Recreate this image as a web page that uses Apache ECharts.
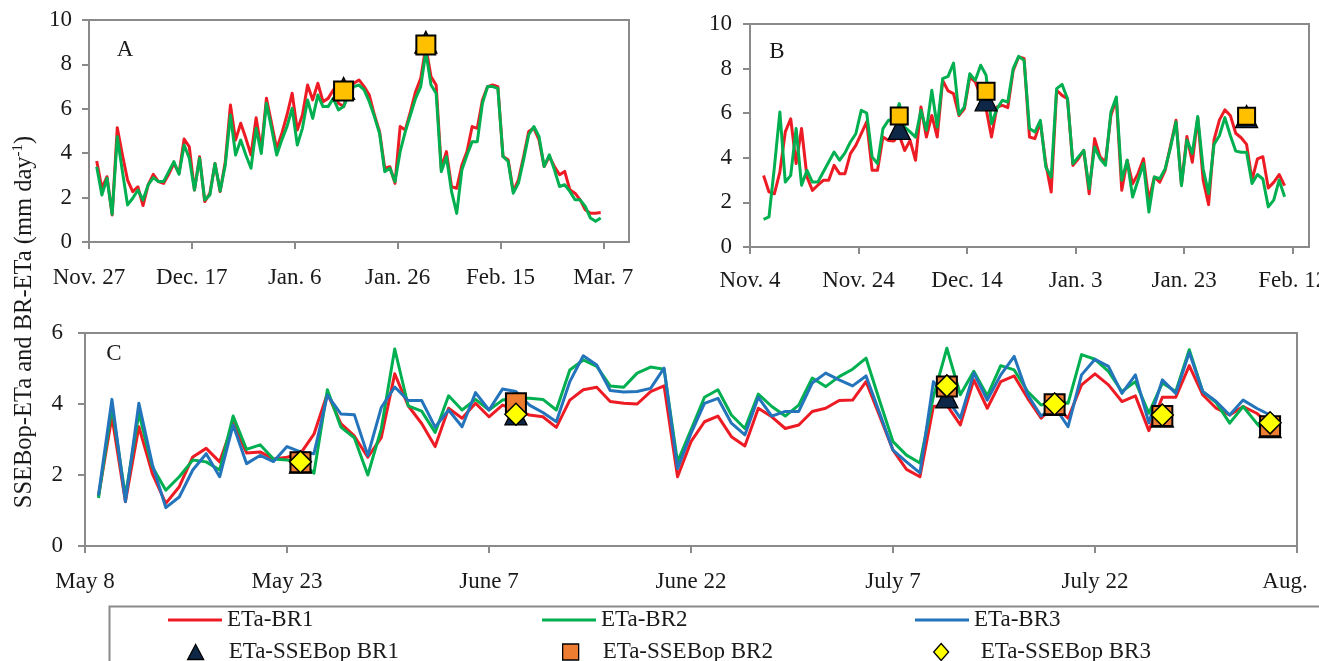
<!DOCTYPE html>
<html><head><meta charset="utf-8">
<script src="https://cdn.jsdelivr.net/npm/echarts@6.0.0/dist/echarts.min.js"></script>
<style>html,body{margin:0;padding:0;background:#fff}#c{width:1319px;height:661px}</style>
</head><body><div id="c"></div>
<script>
// ---------- DATA ----------
// Panel A (day offset from Nov. 27)
const A_start = 1.5;
const A_BR1 = [3.65,2.42,2.94,1.22,5.15,3.92,2.79,2.27,2.49,1.64,
2.57,3.05,2.72,2.64,3.05,3.54,3.09,4.64,4.29,2.34,
3.84,1.82,2.19,3.54,2.27,3.62,6.17,4.59,5.35,4.67,
3.92,5.6,4.14,6.47,5.35,4.2,4.9,5.72,6.7,5.05,
5.72,7.07,6.4,7.15,6.32,6.47,6.85,6.25,6.1,6.92,
7.15,7.3,7.0,6.62,5.72,4.97,3.32,3.39,2.64,5.2,
5.05,5.87,6.77,7.37,8.8,7.45,7.07,3.32,4.07,2.49,
2.42,3.47,4.07,5.2,5.12,6.4,7.0,7.07,7.0,3.85,
3.7,2.28,2.8,3.85,4.98,5.13,4.6,3.4,3.85,3.4,
3.03,3.18,2.35,2.2,1.9,1.45,1.3,1.3,1.33];
const A_BR2 = [3.39,2.12,2.87,1.25,4.74,3.17,1.67,1.97,2.34,1.89,
2.57,2.9,2.72,2.72,3.17,3.62,3.05,4.37,3.77,2.34,
3.77,1.89,2.12,3.54,2.3,3.47,5.72,3.92,4.59,3.92,
3.32,5.12,3.99,6.25,5.12,3.92,4.6,5.2,6.02,4.37,
5.12,6.4,5.57,6.62,6.1,6.1,6.47,5.95,6.1,6.62,
7.0,7.07,6.85,6.32,5.65,4.89,3.17,3.32,2.72,4.07,
4.97,5.72,6.47,7.0,8.57,7.07,6.7,3.17,3.84,2.27,
1.29,3.24,3.92,4.52,4.52,6.25,7.0,7.0,6.92,3.85,
3.63,2.2,2.65,3.7,4.83,5.2,4.75,3.4,3.93,3.25,
2.5,2.58,2.28,1.9,1.9,1.6,1.08,0.93,1.08];
const A_sseDays = [49.5, 65.5];
const A_sseBR1 = [6.92, 9.0];
const A_sseBR2 = [6.8, 8.87];
const A_ticks = ['Nov. 27','Dec. 17','Jan. 6','Jan. 26','Feb. 15','Mar. 7'];

// Panel B (day offset from Nov. 4)
const B_start = 2.5;
const B_BR1 = [3.21,2.47,2.39,3.36,5.16,5.75,3.74,5.31,3.14,2.54,
2.77,2.99,2.99,3.66,3.29,3.29,4.19,4.56,5.08,5.61,
3.44,3.44,4.93,4.78,4.75,5.01,4.33,4.78,3.89,6.28,
4.93,5.9,4.93,7.47,7.0,6.88,5.9,6.2,7.62,7.4,
6.8,6.2,4.93,6.28,6.35,6.25,7.92,8.52,8.45,4.93,
4.86,5.6,3.74,2.47,7.03,6.8,6.65,3.66,3.96,4.33,
2.39,4.86,4.04,3.81,5.9,6.65,2.54,3.89,2.84,3.29,
3.96,2.09,3.14,2.91,3.44,4.56,5.68,2.8,4.95,3.8,
5.8,3.0,1.9,4.8,5.7,6.15,5.9,5.1,4.9,4.6,
3.0,3.95,4.05,2.65,2.9,3.25,2.75];
const B_BR2 = [1.24,1.35,3.59,6.05,2.91,3.21,5.31,2.77,3.44,2.91,
2.91,3.36,3.81,4.26,3.89,4.22,4.71,5.08,6.13,6.01,
4.04,3.74,5.31,5.68,5.68,6.43,5.38,5.16,4.93,6.13,
5.23,7.03,5.38,7.55,7.65,8.25,5.95,6.28,7.77,7.47,
8.15,7.7,5.53,6.2,6.58,6.5,8.0,8.55,8.37,5.31,
5.16,5.68,3.59,3.14,7.1,7.29,6.65,3.74,4.04,4.33,
2.62,4.48,3.96,3.66,6.05,6.73,2.99,3.89,2.24,2.99,
3.74,1.57,3.14,3.06,3.51,4.48,5.61,2.75,4.8,4.2,
5.85,3.5,2.4,4.6,5.0,5.8,5.0,4.3,4.25,4.25,
2.85,3.25,3.05,1.8,2.1,3.0,2.25];
const B_sseDays = [27.5, 43.5, 91.5];
const B_sseBR1 = [5.32, 6.6, 5.85];
const B_sseBR2 = [5.87, 6.98, 5.86];
const B_ticks = ['Nov. 4','Nov. 24','Dec. 14','Jan. 3','Jan. 23','Feb. 12'];

// Panel C (day offset from May 8)
const C_start = 1;
const C_BR1 = [1.4,3.64,1.25,3.36,2.04,1.2,1.67,2.51,2.75,2.37,
3.46,2.62,2.65,2.45,2.5,2.6,3.15,4.3,3.45,3.1,
2.5,3.05,4.85,3.95,3.45,2.8,3.88,3.6,4.02,3.64,
3.97,3.83,3.69,3.64,3.34,4.11,4.4,4.47,4.07,4.02,
4.0,4.35,4.51,1.95,2.94,3.5,3.66,3.08,2.82,3.88,
3.64,3.31,3.41,3.79,3.88,4.1,4.11,4.63,3.67,2.7,
2.16,1.95,3.93,3.97,3.41,4.68,3.88,4.63,4.79,4.16,
3.6,3.97,3.6,4.54,4.85,4.54,4.07,4.23,3.25,4.19,
4.19,5.08,4.26,3.88,3.69,3.93,3.74,3.41];
const C_BR2 = [1.35,3.93,1.4,3.74,2.23,1.57,1.95,2.42,2.37,2.14,
3.66,2.72,2.85,2.45,2.42,2.4,2.05,4.4,3.35,3.05,
2.0,3.3,5.55,3.95,3.8,3.2,4.23,3.83,4.13,3.83,
4.11,4.16,4.16,4.13,3.83,4.96,5.24,5.06,4.51,4.47,
4.87,5.04,4.98,2.37,3.27,4.19,4.4,3.69,3.31,4.28,
3.93,3.66,3.97,4.73,4.49,4.77,4.98,5.29,4.1,2.94,
2.56,2.34,4.21,5.57,4.26,4.92,4.23,5.08,4.96,4.35,
3.97,4.11,4.02,5.39,5.26,4.92,4.35,4.63,3.74,4.59,
4.35,5.53,4.35,4.04,3.46,3.93,3.46,3.06];
const C_BR3 = [1.43,4.13,1.25,4.02,2.3,1.08,1.38,2.14,2.6,1.95,
3.41,2.32,2.55,2.38,2.8,2.65,2.6,4.25,3.72,3.7,
2.55,3.9,4.48,4.1,4.1,3.35,3.83,3.36,4.32,3.83,
4.42,4.35,3.97,3.76,3.5,4.63,5.36,5.1,4.38,4.34,
4.35,4.44,5.01,2.18,3.17,4.02,4.16,3.46,3.13,4.19,
3.66,3.79,3.79,4.59,4.87,4.68,4.51,4.79,3.75,2.7,
2.37,2.06,4.63,4.16,3.6,4.87,4.11,4.82,5.34,4.26,
3.66,3.93,3.36,4.82,5.26,5.06,4.3,4.82,3.47,4.68,
4.3,5.45,4.35,4.07,3.69,4.11,3.88,3.69];
const C_sseDays = [16, 32, 64, 72, 80, 88];
const C_sseBR1 = [2.36, 3.72, 4.2, 3.99, 3.66, 3.36];
const C_sseBR2 = [2.36, 4.02, 4.49, 3.99, 3.66, 3.37];
const C_sseBR3 = [2.37, 3.71, 4.51, 4.0, 3.69, 3.47];
const C_ticks = ['May 8','May 23','June 7','June 22','July 7','July 22','Aug.'];

// ---------- STYLE ----------
const FONT = 'Liberation Serif';
const TXT = '#1a1a1a';
const AXC = '#8a8a8a';
const RED = '#ED1C24', GREEN = '#00B050', BLUE = '#2474BC';
const NAVY = '#0F2747', GOLD = '#FFC000', ORANGE = '#ED7D31', YELLOW = '#FFFF00';

function xAxisCfg(gi, max, interval, labels, margin, lastPad) {
  const vals = labels.map((_, i) => i * interval);
  return {
    type: 'value', gridIndex: gi, min: 0, max: max, interval: interval,
    axisLine: {show: true, lineStyle: {color: AXC, width: 2}},
    axisTick: {show: true, length: 7, customValues: vals, lineStyle: {color: AXC, width: 2}},
    axisLabel: {
      show: true, margin: margin, customValues: vals,
      fontFamily: FONT, fontSize: 23, color: TXT,
      formatter: function (v) {
        const k = Math.round(v / interval);
        const s = labels[k] == null ? '' : labels[k];
        if (lastPad && k === labels.length - 1) return '{r|' + s + '}';
        return s;
      },
      rich: {r: {fontFamily: FONT, fontSize: 23, color: TXT, padding: [0, lastPad || 0, 0, 0]}}
    },
    splitLine: {show: false}
  };
}
function yAxisCfg(gi, max, margin) {
  return {
    type: 'value', gridIndex: gi, min: 0, max: max, interval: 2,
    axisLine: {show: true, lineStyle: {color: AXC, width: 2}},
    axisTick: {show: true, length: 7, lineStyle: {color: AXC, width: 2}},
    axisLabel: {margin: margin, fontFamily: FONT, fontSize: 23, color: TXT},
    splitLine: {show: false}
  };
}
function lineS(name, start, vals, color, gi, z) {
  return {
    type: 'line', name: name, xAxisIndex: gi, yAxisIndex: gi,
    data: vals.map((v, i) => [start + i, v]),
    symbol: 'none', color: color, lineStyle: {width: 3, color: color, join: 'round'},
    z: z, silent: true
  };
}
function markS(name, days, vals, symbol, size, color, gi, z, bw) {
  return {
    type: 'scatter', name: name, xAxisIndex: gi, yAxisIndex: gi,
    data: vals.map((v, i) => [days[i], v]),
    symbol: symbol, symbolSize: size, color: color,
    itemStyle: {color: color, borderColor: '#000', borderWidth: bw, opacity: 1},
    z: z, silent: true
  };
}

const legendText = {fontFamily: FONT, fontSize: 23, color: TXT, lineHeight: 26};
function legendItem(name, left, top, icon, w, h, color, padLeft, border) {
  return {
    data: [{name: name, icon: icon, itemStyle: {color: color, opacity: 1, borderColor: border ? '#000' : color, borderWidth: border ? 1.3 : 0}}],
    left: left, top: top, padding: 0, itemWidth: w, itemHeight: h,
    selectedMode: false,
    textStyle: Object.assign({}, legendText, {padding: [0, 0, 0, padLeft]})
  };
}

const option = {
  animation: false,
  backgroundColor: '#fff',
  grid: [
    {left: 89, top: 20, width: 540, height: 222, show: true, borderColor: AXC, borderWidth: 2, outerBoundsMode: 'none', containLabel: false},
    {left: 750, top: 24, width: 559, height: 223, show: true, borderColor: AXC, borderWidth: 2, outerBoundsMode: 'none', containLabel: false},
    {left: 85, top: 333, width: 1212, height: 213, show: true, borderColor: AXC, borderWidth: 2, outerBoundsMode: 'none', containLabel: false}
  ],
  xAxis: [
    xAxisCfg(0, 105, 20, A_ticks, 24, 0),
    xAxisCfg(1, 103, 20, B_ticks, 22, 0),
    xAxisCfg(2, 90, 15, C_ticks, 24, 24)
  ],
  yAxis: [
    yAxisCfg(0, 10, 17),
    yAxisCfg(1, 10, 18),
    yAxisCfg(2, 6, 22)
  ],
  legend: [
    legendItem('ETa-BR1', 168, 607, 'rect', 54, 3, RED, 0, false),
    legendItem('ETa-BR2', 542, 607, 'rect', 54, 3, GREEN, 0, false),
    legendItem('ETa-BR3', 915, 607, 'rect', 54, 3, BLUE, 0, false),
    legendItem('ETa-SSEBop BR1', 187, 639, 'triangle', 16, 15, NAVY, 20, true),
    legendItem('ETa-SSEBop BR2', 562, 639, 'rect', 16, 16, ORANGE, 19, true),
    legendItem('ETa-SSEBop BR3', 933, 639, 'diamond', 15, 17, YELLOW, 27, true)
  ],
  graphic: [
    {type: 'rect', shape: {x: 109.5, y: 606.5, width: 1240, height: 80}, style: {fill: 'none', stroke: AXC, lineWidth: 2}, z: 0, silent: true},
    {type: 'text', x: 125, y: 50, style: {text: 'A', fontFamily: FONT, fontSize: 23, fill: TXT, align: 'center', verticalAlign: 'middle'}, silent: true},
    {type: 'text', x: 777, y: 52, style: {text: 'B', fontFamily: FONT, fontSize: 23, fill: TXT, align: 'center', verticalAlign: 'middle'}, silent: true},
    {type: 'text', x: 114, y: 354, style: {text: 'C', fontFamily: FONT, fontSize: 23, fill: TXT, align: 'center', verticalAlign: 'middle'}, silent: true},
    {type: 'text', x: 25, y: 322, rotation: Math.PI / 2, silent: true,
      style: {
        text: '{a|SSEBop-ETa and BR-ETa (mm day}{s|-1}{a|)}',
        align: 'center', verticalAlign: 'middle',
        rich: {
          a: {fontFamily: FONT, fontSize: 24.5, fill: TXT, lineHeight: 28},
          s: {fontFamily: FONT, fontSize: 15, fill: TXT, lineHeight: 15, verticalAlign: 'top'}
        }
      }
    }
  ],
  series: [
    lineS('ETa-BR1', A_start, A_BR1, RED, 0, 2),
    lineS('ETa-BR2', A_start, A_BR2, GREEN, 0, 3),
    markS('ETa-SSEBop BR1', A_sseDays, A_sseBR1, 'triangle', [22, 22], NAVY, 0, 5, 1.3),
    markS('ETa-SSEBop BR2', A_sseDays, A_sseBR2, 'rect', [19, 19], GOLD, 0, 6, 2),

    lineS('ETa-BR1', B_start, B_BR1, RED, 1, 2),
    lineS('ETa-BR2', B_start, B_BR2, GREEN, 1, 3),
    markS('ETa-SSEBop BR1', B_sseDays, B_sseBR1, 'triangle', [22, 22], NAVY, 1, 5, 1.3),
    markS('ETa-SSEBop BR2', B_sseDays, B_sseBR2, 'rect', [17, 17], GOLD, 1, 6, 2),

    lineS('ETa-BR1', C_start, C_BR1, RED, 2, 2),
    lineS('ETa-BR2', C_start, C_BR2, GREEN, 2, 3),
    lineS('ETa-BR3', C_start, C_BR3, BLUE, 2, 4),
    markS('ETa-SSEBop BR1', C_sseDays, C_sseBR1, 'triangle', [22, 22], NAVY, 2, 5, 1.3),
    markS('ETa-SSEBop BR2', C_sseDays, C_sseBR2, 'rect', [20, 20], ORANGE, 2, 6, 2),
    markS('ETa-SSEBop BR3', C_sseDays, C_sseBR3, 'diamond', [22, 22], YELLOW, 2, 7, 1.5)
  ]
};

const chart = echarts.init(document.getElementById('c'), null, {renderer: 'canvas'});
chart.setOption(option);
</script>
</body></html>
